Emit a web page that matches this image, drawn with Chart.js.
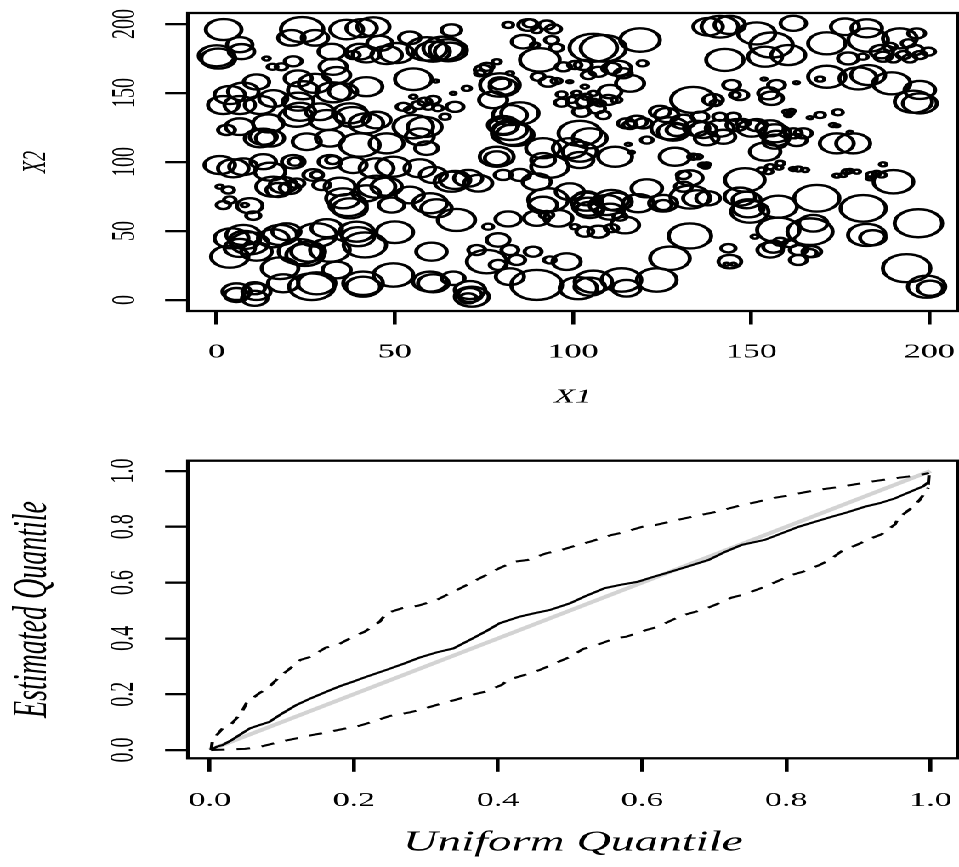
<!DOCTYPE html>
<html><head><meta charset="utf-8">
<script src="https://cdn.jsdelivr.net/npm/chart.js@4.4.1/dist/chart.umd.min.js"></script>
<style>
html,body{margin:0;padding:0;background:#fff;overflow:hidden;}
#stage{position:absolute;left:0;top:0;width:564px;height:867px;transform:scaleX(1.70035);transform-origin:0 0;}
#c1{position:absolute;left:0;top:0;}
#c2{position:absolute;left:0;top:455px;}
</style></head><body>
<div id="stage"><canvas id="c1" width="564" height="455"></canvas><canvas id="c2" width="564" height="412"></canvas></div>
<script>
// ---- top panel: circle centres (X1, X2) and circle sizes ----
const x1Values = [
2,6.5,7,0,0.5,14,15.7,18.2,21.5,24,21,27.6,36.5,40.7,44,32.3,54.2,45.8,40.2,47.7,42,50.5,38.3,59,60.7,32.7,33.7,55.2,61.5,22.9,27.6,24.3,42,35.5,32.7,11.2,3.7,7.5,15.9,1.9,6.5,12.2,55.2,56.6,58.4,60.8,52.4,54.2,59.4,62.1,22.9,23.4,29,30.9,37.4,38.2,42,44.9,22.4,55.2,57,58.9,2.8,6.5,14.5,12.2,15,13.1,25.3,31.8,40.2,47.7,
0.9,4.7,7.5,13.1,15,21.5,22,31.8,32.6,38.3,44.9,49.6,57,60.8,
15.9,18.7,17.3,20.6,22.4,0.9,3.3,1.9,3.7,9.3,7.9,10.3,
27.1,28.1,29.5,34.6,35.5,36.9,37.4,
44.9,47.7,42,49.1,54.2,59.9,61.7,
4.2,7.5,9.3,7.9,6.5,17.8,19.6,15.9,3.7,11.2,
28.1,30.9,23.4,24.8,25.7,31.8,
39.3,39.7,41.6,50,
17.8,18.7,26.7,28.1,33.7,41.1,41.1,49.6,
5.6,11.2,5.6,10.7,10.7,
60.3,59.9,60.8,
65.9,63.6,65,65.5, 81.8,87.4,88,89.8,92.6,94.5, 86,89.3,90.7,94,95.4, 105.7,108.5,118.8,
97.3,100.5,102.9,104.3,107.1,110.8,112.7,114.1,119.5,116,
74.8,75.8,73.9,78.6,79.5,80.4,79.5,77.6,82.3,
90.2,93,95.4,99.1,70.2,66.4,103.3,110.4,109.9,
96.8,96.8,101,105.7,101.5,103.3,102.4,106.6,108.5,105.7,103.8,99.6,107.6,112.2,
133.7,66.9,64.1,
82.3,85.1,80.4,82.8,83.7,82.3,80.4,58.4,
101.9,104.7,99.1,101.9,91.6,
117.9,115,116,119.7,124.4,126.3,127.2,128.1,129.1,130.9,120.7,115.5,116.4,
78.6,78.6,111.8,128.6,91.6,
93.5,101.9, 65.9,66.9,70.6,73.4,80.4,85.1,89.8, 67.3,76.2,81.8, 93,91.6,99.1,89.8,95.9,92.6,
103.8,104.3,104.7,103.8,109.4,110.8,112.2,110.4,114.6,118.3,107.1,103.3,100.5,110.8,113.2,
120.7,125.3,125.3,132.8,132.8,131,131, 132.8,127.2, 66.4,71.1,71.6,71.1,70.6,
73,75.8,79,79,82.3,84.2,88.8,82.3,93.5,98.2, 89.8,101.5,105.7,104.7,113.6,115,123.5,
137.9,141.2,144,151.5,161.8, 155.7,153.9,160.4,142.6, 171.2,176.3,182.4,182.8,191.7,196.4,
177.2,181.3,186.6,187,189.9,194.1,192.7,195.9,194.5,197.3,199.7,188.9,
171.2,169.3,180,182.8,189.4,195.5,197.3,197.3,
144.5,146.8,145.4,157.1,154.8,155.7,153.6,162.7, 139.3,140,
160.9,159.9,161.3,160.4,166.5,169.3,174.3,173,174,177.7,
135.6,141.2,145,134.7,136.5,137.5,141.2,142.2,145.9,147.7,150.1,151.5,155.3,156.7,157.1,156.7,161.8,164.6,162.7,153.9,
133.7,135,158.1,187,137.5, 174,178.6,
148.2,146.8,148.7,149.6,149.2,134.7,137.9, 157.6,157.6,168.4,166.5,167.4,
155.3,156.2,158.1,160.9,163.2,167,166.5,163.2,151, 143.6,144,143.1,145,
189.9,181.4,182.4,184.1,196.9,193.6,199.2,200.2,
155.3,157.8,152.9,154.8,161.8,163.2,165.1,174,176.8,177.7,179.6,175.8,183.8,185.2,186.6,183.3,136.5,137.2
];
const x2Values = [
196,185,180,177,175,175,169,169,173,196,190,190,196,197,198,180,190,186,180,177.5,178,179,177.5,182,180,169,163,160,158.7,160.6,157,152,154.6,151,150.5,158,148.5,151,146,141.3,141.3,141.3,147.3,141.3,143.7,145,140,137.7,140,139,143.7,136.4,136.4,130.4,135.3,132.6,128,130.4,132.8,125.6,118.3,110,123.2,125.6,128,117.2,117.2,118.3,114.7,117.2,112.3,113.5,
97.8,95.4,96.6,100.2,93,100.2,100.2,100.2,101.4,97.8,95.4,96.6,95.4,90.6,
82.1,83.3,79.7,81.2,84.6,82.1,79.7,68.8,72.5,68.3,68.8,61.1,
90.6,90.6,83.3,82.1,73.7,68.8,66.4,
82.1,82.1,77.3,68.8,76.1,70.1,66.4,
44.7,47.1,41.1,43.5,37.7,47.1,49.5,44.7,31.4,35,
47.1,52,35,32.6,35,36.2,
49.5,45.9,39.9,49.1,
23,12.1,9.6,12.1,21.7,12.1,9.6,18.1,
6,6,3.6,1.2,8.5,
35,13.3,12.1,
195.6,182.4,181,180, 199.3,199.3,200.5,195.6,199.3,196.4, 187.2,184.8,174,188.4,182.8, 182.8,182.4,188.4,
169,170.3,170.3,163,165.4,167.9,167.9,164.3,171.5,157,
166.7,169,164.3,172.7,155.8,154.6,157,145,164.3,
161.8,158.2,158.7,158.2,153.4,149.8,154.6,151,145,
149,143,149.8,149.8,143.7,143.7,136.4,138.9,134,143.7,147.3,145,142.5,145,
145,140,132.8,
134,135.3,125.6,120.8,119.6,123.2,126.8,125.4,
120.8,117.2,110,107.5,110,
129.2,128,126.8,128,136.4,134,124.4,122,123.2,129.2,115.9,112.8,107,
103.8,102.7,103.8,103.8,101.4,
96.6,101.4, 85.7,87,88.2,84.6,90.6,90.6,85.7, 58,53.1,58.7, 72.5,68.8,78.5,59.2,59.2,61.6,
71.2,67.6,65.2,73.7,68.8,72.5,71.2,64,54.3,70.1,49.5,49.5,53.1,52,60.4,
80.9,70.1,68.8,74.6,88.5,90.6,82.1, 46.4,30.2, 15.7,7.2,2.4,3.6,1.2,
36.2,27.8,25.4,43.5,36.2,29,35,16.9,29,27.8, 10.9,8.5,13.3,9.6,14.5,8.5,14.5,
198,198,199.3,193.2,200.5, 184.8,176.3,177.5,174, 186,198,196.9,188.4,189.6,193.2,
175.1,176.3,180,176.3,175.1,186,177.5,181.2,175.1,177.5,180,183.5,
161.8,160.1,160.6,163,157,143.7,152.2,142.5,
155.8,148.5,148.5,155.8,149.8,146.2,160.1,157.5, 145,142.7,
135.3,136.4,137,134,132.1,134,136,126.8,126.3,121.5,
132.8,132.8,132.8,124.4,123.2,117.2,124.4,118.3,126.8,128.3,124.4,126.8,124.4,120.8,117.2,114.7,120.8,120.8,115.9,107.5,
103.8,103.8,99.1,98.3,98.3, 113.5,113.5,
87,74.9,72.5,64,66.4,73.7,73.7, 67.6,50.7,73.7,49.5,55.6,
36.2,38.6,42.2,41.1,36.2,35,34,29,45.9, 37.5,27.8,25.9,25.9,
85.7,66.4,47.1,45.1,55.6,23,9.6,8.5,
96.6,95.9,94.2,93,94.9,94.9,94.2,90.1,93,93.5,93,90.6,90.6,91.8,90.6,88.2,97.8,96.6
];
const circleSizes = [
10.5,7.5,7.5,10.5,10,2,3,3.5,5,12.5,7.8,7.8,9.7,9,9.5,7.8,6.3,7.5,7.8,9,8,10,4,11.7,10,8,8,10.8,1.5,8,9.5,9,9.5,8.3,10,7.5,9,9,8.3,9,9,9,2,4,4,4,4,3,3,3,9,9,8.3,10,10,10,10,8.3,10,11.7,8.3,6.7,5,8.3,9,9,8.3,8,8.3,8.3,11.7,10,
9,9,8.3,7.5,9,6.7,4,6.7,4,8,10,10,9,8,
10,8,7,6,4.7,2,3.5,4,3.5,7.5,2,4.2,
5.8,3.5,5,9,10,11,10,
11,9,8,7.5,8.3,10,9,
10,10,11,9,9,10,8.3,9,11,9,
11.7,9,12.5,11,10,11.7,
10,9.5,12.5,10.8,
10.8,9,13.3,11,8.3,11.7,10,11.7,
8.3,8.3,7,7.5,6,
9,10,9,
5.8,11.7,11,9, 3,5.8,4,3,4.5,4.5, 6.7,2.5,11.7,4,4, 14,13.3,11.7,
4.5,4,5,4,5,5.5,7.5,5,3,8.3,
5,4,3,2.5,11.7,8,6,8.3,2,
4,5,3,1.5,2.5,1.5,2,6.7,5,
3,4,2.5,2.5,6.7,5,5,5,4,3,3,3,3,3,
13,5,3,
10,11,8.3,11.7,11,10,9,10,
12.5,10,10,10,10,
6,5,4,5,6,7,11,9,6,7,3.5,1.5,1.5,
10,7,10,9,7,
11,8, 10,9,8.3,8.3,5,6,8.3, 11,3,7.5, 11.7,8.3,8.3,7.5,8.3,4,
9,9,8,7,10,10,9,8,8.3,9,6,5,2.5,4,4,
9,8.3,5,11.5,7.5,4,5, 12.5,11.7, 6.7,9,10,7,5,
5,11.7,5,6.7,5,5,5,8.3,3.5,8.3, 15,11,11,9,11.7,8.3,11.7,
8.7,10.8,9,11,7.5, 12.5,10,10,11, 11,8.3,9,11.7,10,5,
6,3,6.7,5,4,4,4,5,4,4,4,4,
11,2.5,11,10,11,11,9,10,
5,5,3,5,6,6.7,1.5,1.5, 5.8,3,
2,2,2,2,1.5,3,3,2,1.5,1.5,
5,4,4,7.5,8,7,8.3,7,6,4,8.3,6,8,9,7.5,7,5,5,6,9,
3,2.5,2.5,2,2, 10,10,
11.7,9,8.3,11,9,8,7, 11,12.5,13.3,13.3,8.3,
7.5,6,4,4,5,5.5,4,5,2, 4.2,6.7,1.5,1.5,
11.7,13.3,11,7.5,14,14,11,7.5,
2.5,2,2.5,2.5,2,2.5,2,2,2.5,2,2,2,3,2.5,2.5,2,2.5,2
];
const topTicks = [0, 50, 100, 150, 200];

// ---- bottom panel: quantile curves ----
const estX = [0.002,0.01,0.018,0.03,0.045,0.056,0.07,0.083,0.1,0.12,0.14,0.162,0.18,0.199,0.22,0.245,0.27,0.291,0.315,0.338,0.365,0.385,0.402,0.43,0.45,0.472,0.5,0.52,0.548,0.57,0.594,0.612,0.632,0.66,0.692,0.715,0.738,0.77,0.795,0.817,0.84,0.863,0.885,0.909,0.93,0.951,0.965,0.978,0.99,0.995,0.997,0.998];
const estY = [0.0,0.012,0.018,0.035,0.06,0.078,0.09,0.101,0.13,0.161,0.185,0.209,0.228,0.245,0.265,0.287,0.31,0.331,0.35,0.364,0.4,0.428,0.454,0.478,0.49,0.502,0.526,0.55,0.58,0.592,0.603,0.618,0.633,0.655,0.681,0.71,0.735,0.753,0.778,0.8,0.818,0.836,0.852,0.872,0.885,0.902,0.918,0.932,0.945,0.956,0.955,0.985];
const upX = [0.002,0.004,0.018,0.03,0.044,0.051,0.069,0.081,0.097,0.107,0.126,0.14,0.161,0.177,0.199,0.215,0.236,0.245,0.268,0.289,0.315,0.329,0.352,0.365,0.389,0.402,0.423,0.441,0.467,0.488,0.511,0.527,0.558,0.574,0.6,0.618,0.648,0.664,0.692,0.708,0.738,0.754,0.784,0.8,0.83,0.849,0.877,0.895,0.923,0.942,0.969,0.99,0.998];
const upY = [0.0,0.035,0.078,0.093,0.133,0.168,0.204,0.222,0.263,0.283,0.323,0.334,0.367,0.376,0.406,0.424,0.46,0.49,0.509,0.517,0.538,0.556,0.585,0.603,0.634,0.652,0.675,0.681,0.705,0.717,0.735,0.746,0.771,0.78,0.8,0.806,0.824,0.833,0.848,0.857,0.878,0.886,0.904,0.911,0.926,0.934,0.944,0.952,0.964,0.971,0.98,0.988,0.993];
const loX = [0.002,0.049,0.069,0.097,0.115,0.143,0.162,0.19,0.208,0.234,0.25,0.278,0.296,0.322,0.34,0.363,0.382,0.405,0.414,0.444,0.458,0.484,0.5,0.518,0.537,0.562,0.578,0.606,0.622,0.645,0.661,0.687,0.701,0.724,0.742,0.77,0.786,0.807,0.823,0.846,0.86,0.879,0.895,0.918,0.932,0.951,0.955,0.976,0.985,0.997];
const loY = [0.0,0.004,0.011,0.029,0.039,0.054,0.063,0.078,0.087,0.108,0.122,0.135,0.147,0.167,0.179,0.197,0.209,0.233,0.251,0.275,0.287,0.316,0.334,0.362,0.376,0.4,0.406,0.43,0.442,0.47,0.486,0.505,0.52,0.546,0.558,0.585,0.603,0.627,0.639,0.663,0.681,0.717,0.732,0.759,0.773,0.809,0.83,0.872,0.896,0.94];
const refX = [0, 1];
const refY = [0, 1];
const quantTicks = [0, 0.2, 0.4, 0.6, 0.8, 1.0];

// ---- styling / layout ----
const FONT = 'Liberation Serif';
const BLACK = '#000000';
const LW = 2.3;

const frame = {
  id: 'frame',
  afterDraw(chart) {
    const a = chart.chartArea, ctx = chart.ctx;
    ctx.save();
    ctx.strokeStyle = BLACK; ctx.lineWidth = LW;
    ctx.strokeRect(a.left, a.top, a.right - a.left, a.bottom - a.top);
    ctx.restore();
  }
};

function zeroPad(s) { s.paddingLeft = 0; s.paddingRight = 0; s.paddingTop = 0; s.paddingBottom = 0; }
function gridOpts() {
  return { display: true, drawOnChartArea: false, drawTicks: true, tickLength: 13.5,
           color: BLACK, lineWidth: LW, tickWidth: LW };
}
// labelLine: line height (multiple of the 20px font) that places the x tick labels below the ticks
function xAxis(min, max, ticks, fmt, title, titleSize, titlePadBottom, labelLine, height) {
  return {
    type: 'linear', position: 'bottom', min: min, max: max,
    afterBuildTicks: s => { s.ticks = ticks.map(v => ({ value: v })); },
    afterFit: s => { s.height = height; zeroPad(s); },
    ticks: { autoSkip: false, maxRotation: 0, minRotation: 0, padding: 0, color: BLACK,
             font: { family: FONT, size: 20, lineHeight: labelLine }, callback: fmt },
    grid: gridOpts(),
    border: { display: false },
    title: { display: true, text: title, color: BLACK,
             font: { family: FONT, size: titleSize, style: 'italic' },
             padding: { top: 0, bottom: titlePadBottom } }
  };
}
function yAxis(min, max, ticks, fmt, title, titleSize, titlePadTop, labelPad) {
  return {
    type: 'linear', position: 'left', min: min, max: max,
    afterBuildTicks: s => { s.ticks = ticks.map(v => ({ value: v })); },
    afterFit: s => { s.width = 110.6; zeroPad(s); },
    ticks: { autoSkip: false, minRotation: 90, maxRotation: 90, crossAlign: 'center',
             padding: labelPad, color: BLACK, font: { family: FONT, size: 20 }, callback: fmt },
    grid: gridOpts(),
    border: { display: false },
    title: { display: true, text: title, color: BLACK,
             font: { family: FONT, size: titleSize, style: 'italic' },
             padding: { top: titlePadTop, bottom: 0 } }
  };
}
const common = {
  responsive: false, devicePixelRatio: 2, animation: false, events: [],
  plugins: { legend: { display: false }, tooltip: { enabled: false } }
};

const n = Math.min(x1Values.length, x2Values.length, circleSizes.length);
const circles = [];
for (let i = 0; i < n; i++) circles.push({ x: x1Values[i], y: x2Values[i], r: circleSizes[i] });

new Chart(document.getElementById('c1'), {
  type: 'bubble',
  data: { datasets: [{ data: circles, borderColor: BLACK, backgroundColor: 'rgba(0,0,0,0)',
                       borderWidth: 2.4, hoverBorderWidth: 2.4, hoverRadius: 0, clip: false }] },
  options: Object.assign({}, common, {
    layout: { autoPadding: false, padding: { top: 13, right: 0.6, bottom: 0, left: 0 } },
    scales: {
      x: xAxis(-8, 208, topTicks, v => String(v), 'X1', 20, 46, 2.75, 144),
      y: yAxis(-8, 208, topTicks, v => String(v), 'X2', 20, 9.2, 8.6)
    }
  }),
  plugins: [frame]
});

const pts = (xs, ys) => xs.map((x, i) => ({ x: x, y: ys[i] }));
const lineBase = { showLine: true, pointRadius: 0, pointHoverRadius: 0, fill: false, tension: 0 };

new Chart(document.getElementById('c2'), {
  type: 'scatter',
  data: { datasets: [
    Object.assign({ data: pts(estX, estY), borderColor: BLACK, borderWidth: 2 }, lineBase),
    Object.assign({ data: pts(upX, upY), borderColor: BLACK, borderWidth: 2, borderDash: [8, 7] }, lineBase),
    Object.assign({ data: pts(loX, loY), borderColor: BLACK, borderWidth: 2, borderDash: [8, 7] }, lineBase),
    Object.assign({ data: pts(refX, refY), borderColor: '#d3d3d3', borderWidth: 3.5 }, lineBase)
  ] },
  options: Object.assign({}, common, {
    layout: { autoPadding: false, padding: { top: 5.7, right: 0.6, bottom: 0, left: 0 } },
    scales: {
      x: xAxis(-0.030, 1.0382, quantTicks, v => Number(v).toFixed(1), 'Uniform Quantile', 28, 7.2, 2.87, 108.7),
      y: yAxis(-0.0297, 1.0369, quantTicks, v => Number(v).toFixed(1), 'Estimated Quantile', 28, 2.6, 12)
    }
  }),
  plugins: [frame]
});
</script>
</body></html>
